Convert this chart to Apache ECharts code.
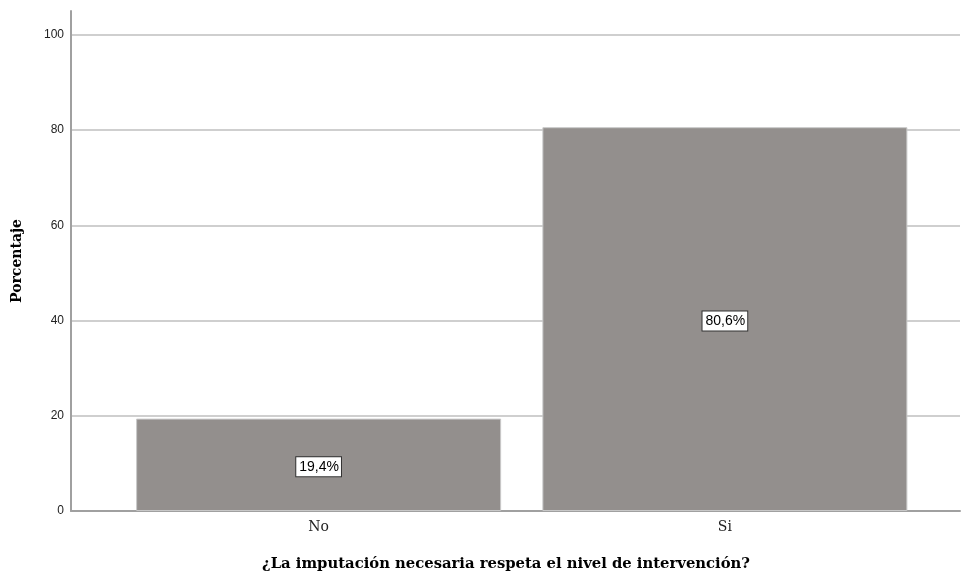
<!DOCTYPE html>
<html>
<head>
<meta charset="utf-8">
<script src="https://cdn.jsdelivr.net/npm/echarts@6/dist/echarts.min.js"></script>
<style>html,body{margin:0;padding:0;background:#fff;}#c{width:961px;height:577px;}</style>
</head>
<body>
<div id="c"></div>
<script>
const categories = ['No', 'Si'];
const percentages = [19.4, 80.6];
const yTicks = [0, 20, 40, 60, 80, 100];
const yAxisTitle = 'Porcentaje';
const xAxisTitle = '¿La imputación necesaria respeta el nivel de intervención?';

const chart = echarts.init(document.getElementById('c'), null, {renderer: 'canvas'});
const option = {
  animation: false,
  backgroundColor: '#ffffff',
  grid: [
    {left: 71, right: 1, top: 11, bottom: 66},
    {left: 115.5, right: 33, top: 11, bottom: 66}
  ],
  xAxis: [
    {gridIndex: 0, type: 'value', min: 0, max: 1,
     axisLine: {show: true, onZero: false, lineStyle: {color: '#a0a0a0', width: 2}},
     axisTick: {show: false}, axisLabel: {show: false}, splitLine: {show: false}},
    {gridIndex: 1, type: 'category', data: categories,
     axisLine: {show: false}, axisTick: {show: false},
     axisLabel: {margin: 9, fontFamily: 'DejaVu Serif', fontSize: 14, color: '#222'}}
  ],
  yAxis: [
    {gridIndex: 0, type: 'value', min: 0, max: 105, interval: 20,
     name: yAxisTitle, nameLocation: 'middle', nameGap: 47, nameRotate: 90,
     nameTextStyle: {fontFamily: 'DejaVu Serif', fontWeight: 'bold', fontSize: 14, color: '#000'},
     axisLine: {show: true, lineStyle: {color: '#a0a0a0', width: 2}},
     axisTick: {show: false},
     axisLabel: {margin: 7, fontFamily: 'Liberation Sans', fontSize: 12, color: '#222', showMaxLabel: false,
       formatter: v => (yTicks.indexOf(v) >= 0 ? String(v) : '')},
     splitLine: {show: true, showMaxLine: false, showMinLine: false, lineStyle: {color: '#cfcfcf', width: 2}}},
    {gridIndex: 1, type: 'value', min: 0, max: 105, show: false, splitLine: {show: false}}
  ],
  graphic: [{
    type: 'text', x: 506, y: 557,
    style: {text: xAxisTitle, align: 'center', verticalAlign: 'top',
      font: 'bold 14.8px "DejaVu Serif"', fill: '#000'}
  }],
  series: [{
    type: 'bar', xAxisIndex: 1, yAxisIndex: 1,
    data: percentages, barWidth: 365,
    itemStyle: {color: '#938f8d', borderColor: '#c8c8c8', borderWidth: 1},
    label: {show: true, position: 'inside', offset: [0, 2],
      formatter: p => p.value.toFixed(1).replace('.', ',') + '%',
      fontFamily: 'Liberation Sans', fontSize: 14, color: '#000',
      backgroundColor: '#fff', borderColor: '#333', borderWidth: 1,
      padding: [3, 2, 2, 3]}
  }]
};
chart.setOption(option);
</script>
</body>
</html>
